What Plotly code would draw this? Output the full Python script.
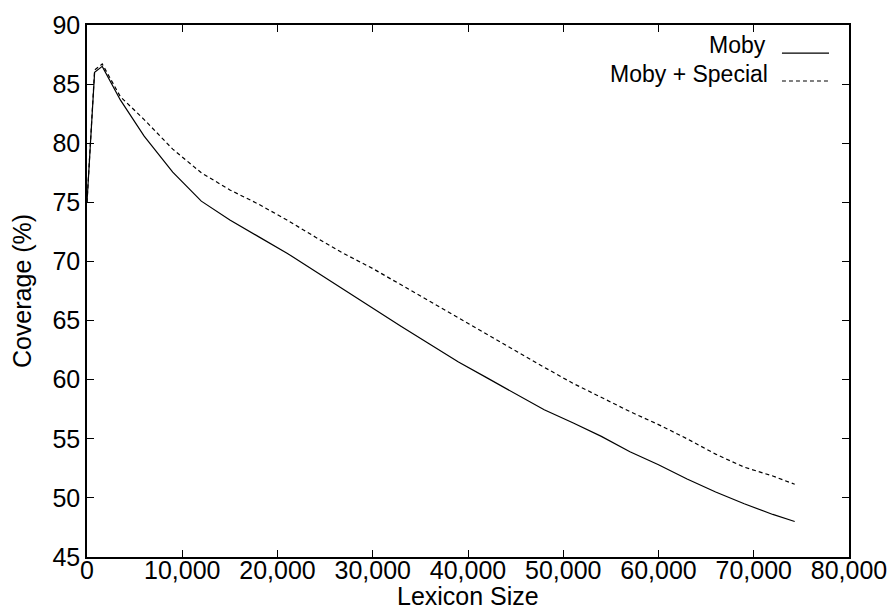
import plotly.graph_objects as go

# ---- data ----
lexicon_size = [0, 800, 1600, 3500, 6000, 9000, 12000, 15000, 18000, 21000, 24000,
                27000, 30000, 33000, 36000, 39000, 42000, 45000, 48000, 51000,
                54000, 57000, 60000, 63000, 66000, 69000, 72000, 74300]
moby = [75.0, 86.0, 86.5, 83.66, 80.6, 77.55, 75.1, 73.5, 72.1, 70.7, 69.15,
        67.6, 66.0, 64.5, 63.0, 61.5, 60.15, 58.8, 57.45, 56.35,
        55.2, 53.9, 52.8, 51.6, 50.5, 49.5, 48.6, 48.0]
moby_special = [75.0, 86.2, 86.7, 83.94, 82.0, 79.5, 77.5, 76.05, 74.85, 73.5, 72.05,
                70.65, 69.4, 68.0, 66.6, 65.25, 63.85, 62.45, 61.05, 59.7,
                58.5, 57.3, 56.2, 55.0, 53.7, 52.6, 51.85, 51.15]
series_names = ["Moby", "Moby + Special"]
x_title = "Lexicon Size"
y_title = "Coverage (%)"
x_ticks = [0, 10000, 20000, 30000, 40000, 50000, 60000, 70000, 80000]
y_ticks = [45, 50, 55, 60, 65, 70, 75, 80, 85, 90]

FONT = "Liberation Sans, Arial, Helvetica, sans-serif"
FS = 25
LEG_FS = 23
DASH = "4px,3px"

fig = go.Figure()
fig.add_trace(go.Scatter(x=lexicon_size, y=moby, mode="lines", name=series_names[0],
                         line=dict(color="black", width=1.2), showlegend=False))
fig.add_trace(go.Scatter(x=lexicon_size, y=moby_special, mode="lines", name=series_names[1],
                         line=dict(color="black", width=1.2, dash=DASH), showlegend=False))

axis_common = dict(
    showgrid=False, zeroline=False, showline=True, linecolor="black", linewidth=1.5,
    mirror="ticks", ticks="inside", ticklen=7, tickwidth=1.2, tickcolor="black",
    tickfont=dict(family=FONT, size=FS, color="black"), automargin=False,
)

fig.update_xaxes(range=[0, 80000], tickvals=x_ticks, tickformat=",",
                 ticklabelposition="outside", ticklabelstandoff=-10,
                 **axis_common)
fig.update_yaxes(range=[45, 90], tickvals=y_ticks, **axis_common,
                 title=dict(text=y_title, font=dict(family=FONT, size=FS, color="black"),
                            standoff=14))

# x-axis title as an annotation for precise placement
fig.add_annotation(text=x_title, xref="paper", yref="paper", x=0.5, y=-0.0733,
                   xanchor="center", yanchor="middle", showarrow=False,
                   font=dict(family=FONT, size=FS, color="black"))

# manual legend (text left of the line sample, as in the reference)
legend_rows = [
    (series_names[0], 0.8937, 0.9617, 0.947, None),
    (series_names[1], 0.8963, 0.9080, 0.8947, DASH),
]
for name, tx, ty, ly, dash in legend_rows:
    fig.add_annotation(text=name, xref="paper", yref="paper", x=tx, y=ty,
                       xanchor="right", yanchor="middle", showarrow=False,
                       font=dict(family=FONT, size=LEG_FS, color="black"))
    fig.add_shape(type="line", xref="paper", yref="paper", x0=0.912, x1=0.9738, y0=ly, y1=ly,
                  line=dict(color="black", width=1.2, dash=dash if dash else "solid"))

fig.update_layout(
    width=894, height=610,
    margin=dict(l=87, r=45, t=25, b=53, pad=0),
    paper_bgcolor="white", plot_bgcolor="white",
    font=dict(family=FONT, size=FS, color="black"),
)

fig.write_html("out.html")
